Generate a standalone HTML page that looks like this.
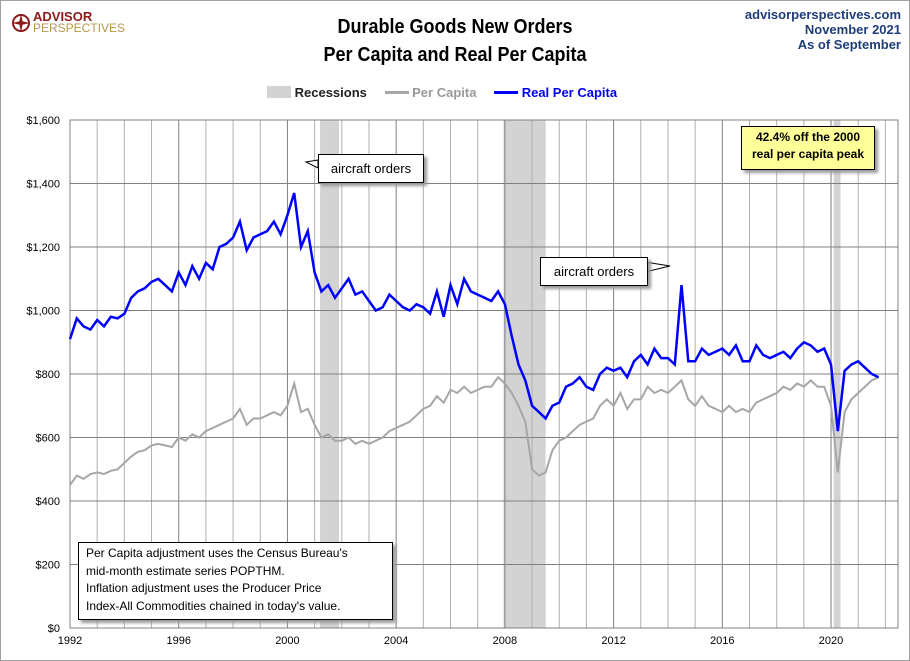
<!DOCTYPE html>
<html><head><meta charset="utf-8"><style>
body{margin:0;background:#fff;font-family:"Liberation Sans",sans-serif;}
#wrap{position:relative;width:908px;height:659px;border:1px solid #a0a0a0;overflow:hidden;}
.t{position:absolute;white-space:nowrap;}
</style></head><body>
<div id="wrap">
<div class="t" style="left:10px;top:10px;">
 <svg width="20" height="20" style="position:absolute;left:0;top:2px"><circle cx="10" cy="10" r="8" fill="none" stroke="#8b1a1a" stroke-width="2"/><path d="M10 1 L12 10 L10 19 L8 10Z M1 10 L10 8 L19 10 L10 12Z" fill="#8b1a1a"/></svg>
 <div style="position:absolute;left:22px;top:0;font-weight:bold;font-size:13px;color:#8b1a1a;line-height:12px;">ADVISOR</div>
 <div style="position:absolute;left:22px;top:11px;font-size:12px;color:#b8964a;line-height:13px;">PERSPECTIVES</div>
</div>
<div class="t" style="left:0;width:908px;top:12px;text-align:center;font-weight:bold;font-size:20px;line-height:28px;color:#000;transform:scaleX(0.9);">Durable Goods New Orders<br>Per Capita and Real Per Capita</div>
<div class="t" style="right:8px;top:6px;text-align:right;font-weight:bold;font-size:13px;line-height:15px;color:#1f3d7a;">advisorperspectives.com<br>November 2021<br>As of September</div>
<div class="t" style="left:266px;top:84px;font-weight:bold;font-size:13px;">
 <span><span style="display:inline-block;width:24px;height:12px;background:#d3d3d3;vertical-align:-1px;"></span> <span style="color:#222">Recessions</span></span>
 <span style="margin-left:14px;"><span style="display:inline-block;width:24px;height:3px;background:#a6a6a6;vertical-align:3px;"></span> <span style="color:#999">Per Capita</span></span>
 <span style="margin-left:14px;"><span style="display:inline-block;width:24px;height:3px;background:#0000ff;vertical-align:3px;"></span> <span style="color:#0000ee">Real Per Capita</span></span>
</div>
<svg id="chart" width="910" height="661" style="position:absolute;left:-1px;top:-1px"></svg>
<div class="t" style="left:740px;top:125px;width:132px;height:40px;background:#ffff99;border:1px solid #000;box-shadow:3px 3px 3px #999;text-align:center;font-weight:bold;font-size:12px;line-height:17px;padding-top:2px;">42.4% off the 2000<br>real per capita peak</div>
<div class="t" style="left:317px;top:153px;width:104px;height:27px;background:#fff;border:1px solid #000;box-shadow:3px 3px 3px #999;font-size:13px;line-height:27px;text-align:center;">aircraft orders</div>
<div class="t" style="left:539px;top:256px;width:106px;height:27px;background:#fff;border:1px solid #000;box-shadow:3px 3px 3px #999;font-size:13px;line-height:27px;text-align:center;">aircraft orders</div>
<div class="t" style="left:77px;top:541px;width:306px;height:74px;background:#fff;border:1px solid #000;box-shadow:3px 3px 3px #999;font-size:12px;line-height:17.5px;padding:2px 0 0 7px;">Per Capita adjustment uses the Census Bureau's<br>mid-month estimate series POPTHM.<br>Inflation adjustment uses the Producer Price<br>Index-All Commodities chained in today's value.</div>
</div>
<script>
const startYear = 1992;
const yTicks = [0,200,400,600,800,1000,1200,1400,1600];
const xTickYears = [1992,1996,2000,2004,2008,2012,2016,2020];
const recessions = [[2001.2,2001.9],[2007.95,2009.5],[2020.1,2020.35]];
const realPerCapita = [
910,975,950,940, 970,950,980,975, 990,1040,1060,1070, 1090,1100,1080,1060,
1120,1080,1140,1100, 1150,1130,1200,1210, 1230,1280,1190,1230, 1240,1250,1280,1240,
1300,1370,1200,1250, 1120,1060,1080,1040, 1070,1100,1050,1060, 1030,1000,1010,1050,
1030,1010,1000,1020, 1010,990,1060,980, 1080,1020,1100,1060, 1050,1040,1030,1060,
1020,920,830,780, 700,680,660,700, 710,760,770,790, 760,750,800,820,
810,820,790,840, 860,830,880,850, 850,830,1080,840, 840,880,860,870,
880,860,890,840, 840,890,860,850, 860,870,850,880, 900,890,870,880,
830,620,810,830, 840,820,800,790];
const perCapita = [
450,480,470,485, 490,485,495,500, 520,540,555,560, 575,580,575,570,
600,590,610,600, 620,630,640,650, 660,690,640,660, 660,670,680,670,
700,770,680,690, 640,600,610,590, 590,600,580,590, 580,590,600,620,
630,640,650,670, 690,700,730,710, 750,740,760,740, 750,760,760,790,
770,740,700,650, 500,480,490,560, 590,600,620,640, 650,660,700,720,
700,740,690,720, 720,760,740,750, 740,760,780,720, 700,730,700,690,
680,700,680,690, 680,710,720,730, 740,760,750,770, 760,780,760,760,
700,490,680,720, 740,760,780,790];

const L=70,R=898,T=120,B=628;
const X=yr=>L+(yr-1992)*27.18;
const Y=v=>B-(v/1600)*(B-T);
const svg=document.getElementById('chart');
const NS='http://www.w3.org/2000/svg';
function mk(tag,attrs){const e=document.createElementNS(NS,tag);for(const k in attrs)e.setAttribute(k,attrs[k]);svg.appendChild(e);return e;}
recessions.forEach(r=>{
 const e=mk('rect',{x:X(r[0]),y:T,width:X(r[1])-X(r[0]),height:B-T,fill:'#d3d3d3'});
 
 
});
for(let yr=1992;yr<=2022;yr++){
 const x=X(yr); if(x>R)break;
 const e=mk('line',{x1:x,x2:x,y1:T,y2:B,stroke:(yr%4==0)?'#808080':'#b0b0b0','stroke-width':1});
 
 
}
yTicks.forEach(v=>{
 const e=mk('line',{x1:L,x2:R,y1:Y(v),y2:Y(v),stroke:'#808080','stroke-width':1});
 
 
 const t=mk('text',{x:L-10,y:Y(v)+4,'text-anchor':'end','font-size':11,'font-family':'Liberation Sans, sans-serif'});
 t.textContent='$'+v.toLocaleString('en-US');
 
 
});
mk('rect',{x:L,y:T,width:R-L,height:B-T,fill:'none',stroke:'#808080'});
xTickYears.forEach(yr=>{
 const t=mk('text',{x:X(yr),y:B+16,'text-anchor':'middle','font-size':11,'font-family':'Liberation Sans, sans-serif'});
 t.textContent=yr;
 
 
});
function path(arr){return arr.map((v,i)=>(i?'L':'M')+X(startYear+i/4).toFixed(1)+' '+Y(v).toFixed(1)).join(' ');}
const p1=mk('path',{d:path(perCapita),fill:'none',stroke:'#a6a6a6','stroke-width':2});


const p2=mk('path',{d:path(realPerCapita),fill:'none',stroke:'#0000ff','stroke-width':2.5});


const c1=mk('path',{d:'M318 160 L306 162 L318 168Z',fill:'#fff',stroke:'#000'});


const c2=mk('path',{d:'M645 262 L670 266 L645 272Z',fill:'#fff',stroke:'#000'});


</script>
</body></html>
